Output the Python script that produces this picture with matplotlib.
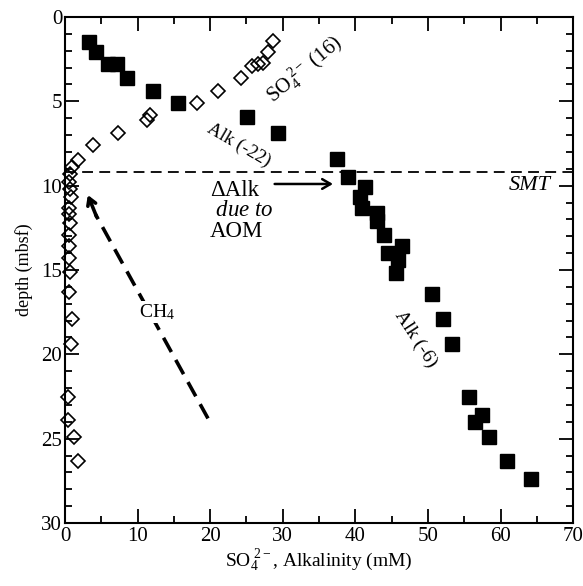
import numpy as np
import matplotlib
matplotlib.use('Agg')
import matplotlib.pyplot as plt
from matplotlib.ticker import MultipleLocator

plt.rcParams['font.family'] = 'Liberation Serif'
plt.rcParams['mathtext.fontset'] = 'custom'
plt.rcParams['mathtext.rm'] = 'Liberation Serif'
plt.rcParams['mathtext.it'] = 'Liberation Serif:italic'

# alkalinity (mM) vs depth (mbsf)
alk = [3.3, 4.3, 5.9, 7.1, 8.5, 12.1, 15.5, 25.1, 29.4, 37.5, 39.0, 41.3, 40.6,
       40.9, 43.0, 43.0, 43.9, 46.4, 44.5, 45.9, 45.6, 50.5, 52.1, 53.3, 55.6,
       57.4, 56.5, 58.4, 60.9, 64.2]
alk_depth = [1.5, 2.1, 2.8, 2.8, 3.6, 4.4, 5.1, 5.9, 6.9, 8.4, 9.5, 10.1, 10.7,
             11.3, 11.6, 12.1, 12.9, 13.6, 14.0, 14.4, 15.2, 16.4, 17.9, 19.4,
             22.5, 23.6, 24.0, 24.9, 26.3, 27.4]

# sulfate (mM) vs depth
so4 = [28.6, 27.9, 27.3, 26.6, 25.8, 24.3, 21.1, 18.2, 11.7, 11.3, 7.3, 3.8,
       1.8, 1.0, 0.7, 0.6, 0.7, 0.8, 0.6, 0.6, 0.7, 0.6, 0.6, 0.6, 0.7, 0.6,
       1.0, 0.8, 0.4, 0.4, 1.2, 1.8]
so4_depth = [1.4, 2.1, 2.7, 2.8, 2.9, 3.6, 4.4, 5.1, 5.8, 6.1, 6.9, 7.6, 8.5,
             8.9, 9.3, 9.8, 10.2, 10.7, 11.3, 11.7, 12.2, 12.9, 13.6, 14.3,
             15.1, 16.3, 17.9, 19.4, 22.5, 23.9, 24.9, 26.3]

smt = 9.2
ch4_start = (19.7, 23.8)
ch4_end = (3.0, 10.4)
dalk_start = (28.5, 9.9)
dalk_end = (37.3, 9.9)

fig = plt.figure(figsize=(5.83, 5.86), dpi=100)
ax = fig.add_axes([0.1115, 0.1075, 0.8715, 0.8635])

ax.plot(alk, alk_depth, 's', color='black', ms=10, zorder=3)
ax.plot(so4, so4_depth, 'D', mfc='none', mec='black', ms=7.5, mew=1.2,
        zorder=3, clip_on=False)

ax.axhline(smt, color='black', lw=1.3, ls=(0, (6, 3.5)), zorder=2)

# CH4 dashed arrow
ax.plot([ch4_start[0], ch4_end[0] + 1.2], [ch4_start[1], ch4_end[1] + 1.3],
        color='black', lw=2.6, ls=(0, (4.5, 2.5)), zorder=2)
ax.annotate('', xy=ch4_end, xytext=(ch4_end[0] + 1.5, ch4_end[1] + 1.6),
            arrowprops=dict(arrowstyle='->,head_length=0.5,head_width=0.3',
                            color='black', lw=2.6))
ax.text(12.7, 17.5, 'CH$_4$', fontsize=14, ha='center', va='center',
        bbox=dict(facecolor='white', edgecolor='none', pad=1), zorder=4)

# delta alk arrow
ax.annotate('', xy=dalk_end, xytext=dalk_start,
            arrowprops=dict(arrowstyle='->,head_length=0.6,head_width=0.35',
                            color='black', lw=1.8))
ax.text(20.0, 11.5, '\u0394Alk\n $\\mathit{due\\ to}$\nAOM', fontsize=16.5,
        ha='left', va='center', linespacing=0.95)

ax.text(64.0, 10.0, 'SMT', fontsize=16, ha='center', va='center', style='italic')
ax.text(24.0, 7.6, 'Alk (-22)', fontsize=13.5, ha='center', va='center', rotation=-30)
ax.text(33.0, 3.1, 'SO$_4^{\\ 2-}$ (16)', fontsize=15, ha='center', va='center',
        rotation=40)
ax.text(48.3, 19.1, 'Alk (-6)', fontsize=14, ha='center', va='center', rotation=-57)

ax.set_xlim(0, 70)
ax.set_ylim(30, 0)
ax.xaxis.set_major_locator(MultipleLocator(10))
ax.xaxis.set_minor_locator(MultipleLocator(5))
ax.yaxis.set_major_locator(MultipleLocator(5))
ax.yaxis.set_minor_locator(MultipleLocator(1))
ax.tick_params(which='both', direction='in', top=True, right=True,
               labelsize=15, width=1.3)
ax.tick_params(axis='x', pad=3)
ax.tick_params(axis='y', pad=2)
ax.tick_params(which='major', length=10)
ax.tick_params(which='minor', length=5)
for s in ax.spines.values():
    s.set_linewidth(1.5)

ax.set_xlabel('SO$_4^{\\ 2-}$, Alkalinity (mM)', fontsize=14, labelpad=1)
ax.set_ylabel('depth (mbsf)', fontsize=13, labelpad=6)

fig.savefig('out.png', dpi=100)
